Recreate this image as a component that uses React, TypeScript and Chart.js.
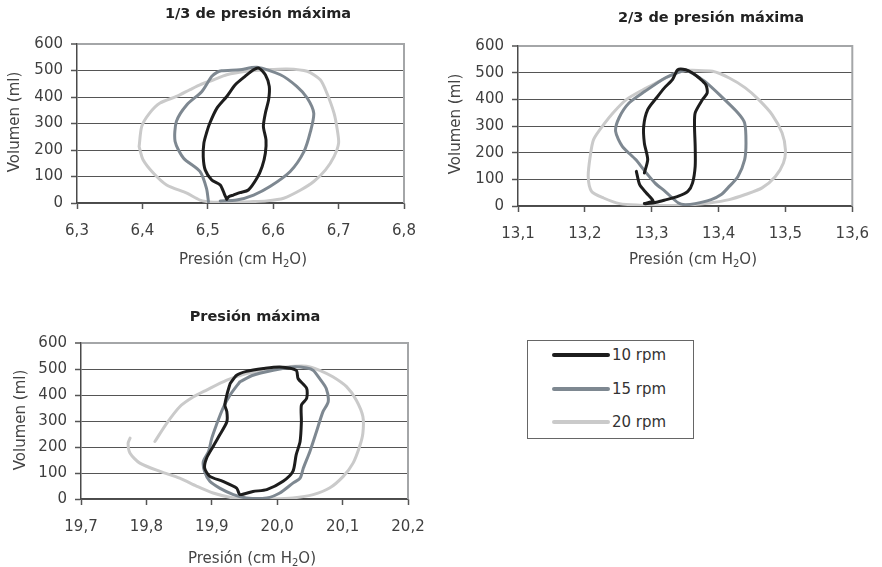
import React, { useEffect, useRef } from "react";
import { Chart, registerables } from "chart.js";

Chart.register(...registerables);

const FONT = "'DejaVu Sans', 'Liberation Sans', sans-serif";

// ---------- Panel 1: 1/3 de presión máxima ----------
const p1Rpm10X = [6.529, 6.526, 6.519, 6.506, 6.496, 6.493, 6.494, 6.498, 6.503, 6.514, 6.529, 6.542, 6.557, 6.57, 6.578, 6.588, 6.594, 6.593, 6.588, 6.585, 6.589, 6.588, 6.583, 6.575, 6.562, 6.549, 6.539, 6.532, 6.529];
const p1Rpm10Y = [14, 30, 68, 87, 125, 175, 226, 264, 301, 358, 402, 446, 478, 503, 509, 484, 440, 390, 339, 289, 238, 188, 137, 93, 49, 39, 30, 24, 14];
const p1Rpm15X = [6.501, 6.498, 6.488, 6.463, 6.45, 6.452, 6.468, 6.491, 6.506, 6.514, 6.521, 6.549, 6.575, 6.611, 6.636, 6.652, 6.662, 6.657, 6.647, 6.626, 6.595, 6.57, 6.544, 6.519];
const p1Rpm15Y = [5, 55, 119, 169, 232, 308, 371, 421, 478, 493, 499, 503, 512, 484, 440, 396, 339, 270, 194, 119, 62, 30, 11, 8];
const p1Rpm20X = [6.395, 6.399, 6.411, 6.427, 6.452, 6.473, 6.488, 6.509, 6.529, 6.56, 6.59, 6.621, 6.652, 6.672, 6.682, 6.693, 6.698, 6.7, 6.693, 6.68, 6.662, 6.642, 6.616, 6.59, 6.565, 6.539, 6.509, 6.488, 6.468, 6.437, 6.417, 6.401, 6.395];
const p1Rpm20Y = [213, 289, 339, 377, 402, 428, 446, 465, 484, 497, 503, 506, 497, 465, 415, 339, 276, 226, 175, 125, 81, 49, 18, 8, 5, 3, 3, 11, 37, 68, 112, 163, 213];

// ---------- Panel 2: 2/3 de presión máxima ----------
const p2Rpm10X = [13.277, 13.282, 13.292, 13.299, 13.302, 13.289, 13.307, 13.322, 13.339, 13.354, 13.361, 13.365, 13.365, 13.364, 13.365, 13.376, 13.383, 13.381, 13.371, 13.361, 13.351, 13.339, 13.331, 13.319, 13.307, 13.294, 13.288, 13.289, 13.294, 13.289];
const p2Rpm10Y = [130, 80, 49, 30, 18, 9, 14, 24, 36, 55, 86, 149, 224, 299, 349, 399, 424, 455, 480, 499, 511, 511, 474, 443, 405, 361, 299, 236, 174, 124];
const p2Rpm15X = [13.34, 13.32, 13.29, 13.266, 13.251, 13.246, 13.256, 13.276, 13.29, 13.305, 13.32, 13.34, 13.35, 13.365, 13.389, 13.404, 13.414, 13.429, 13.439, 13.441, 13.439, 13.429, 13.404, 13.379, 13.36, 13.351, 13.34];
const p2Rpm15Y = [501, 480, 430, 386, 330, 280, 224, 174, 130, 86, 55, 11, 5, 9, 24, 43, 68, 111, 174, 236, 311, 349, 411, 468, 499, 509, 501];
const p2Rpm20X = [13.361, 13.391, 13.416, 13.44, 13.46, 13.48, 13.495, 13.5, 13.497, 13.485, 13.465, 13.44, 13.416, 13.386, 13.361, 13.331, 13.302, 13.282, 13.252, 13.228, 13.21, 13.205, 13.208, 13.213, 13.228, 13.242, 13.262, 13.287, 13.312, 13.331, 13.351, 13.361];
const p2Rpm20Y = [509, 505, 480, 443, 399, 343, 274, 211, 161, 111, 68, 43, 24, 11, 5, 2, 2, 3, 9, 30, 55, 111, 186, 249, 305, 349, 399, 436, 468, 493, 509, 509];

// ---------- Panel 3: Presión máxima ----------
const p3Rpm10X = [19.928, 19.938, 19.953, 19.979, 20.004, 20.029, 20.032, 20.045, 20.045, 20.037, 20.037, 20.035, 20.029, 20.024, 20.009, 19.984, 19.963, 19.943, 19.938, 19.917, 19.897, 19.889, 19.892, 19.902, 19.912, 19.923, 19.923, 19.92, 19.923, 19.928];
const p3Rpm10Y = [444, 476, 491, 502, 508, 495, 463, 426, 387, 361, 297, 221, 170, 106, 68, 36, 29, 17, 42, 68, 87, 119, 157, 202, 246, 297, 336, 361, 400, 444];
const p3Rpm15X = [19.943, 19.928, 19.917, 19.907, 19.9, 19.895, 19.887, 19.889, 19.897, 19.912, 19.933, 19.953, 19.984, 20.004, 20.024, 20.035, 20.04, 20.05, 20.06, 20.07, 20.078, 20.075, 20.065, 20.055, 20.045, 20.024, 19.994, 19.963, 19.943];
const p3Rpm15Y = [451, 400, 349, 285, 234, 183, 144, 106, 68, 42, 17, 4, 4, 23, 61, 80, 119, 183, 259, 336, 374, 425, 463, 495, 504, 508, 495, 476, 451];
const p3Rpm20X = [19.813, 19.831, 19.851, 19.872, 19.892, 19.923, 19.953, 19.984, 20.014, 20.045, 20.065, 20.085, 20.106, 20.121, 20.131, 20.131, 20.126, 20.116, 20.101, 20.08, 20.055, 20.024, 19.994, 19.963, 19.933, 19.902, 19.877, 19.851, 19.821, 19.79, 19.775, 19.772, 19.775];
const p3Rpm20Y = [221, 291, 355, 393, 419, 457, 483, 495, 508, 511, 495, 470, 432, 380, 317, 253, 202, 138, 87, 42, 17, 4, 0, 0, 4, 23, 49, 80, 106, 138, 176, 214, 234];

// ---------- Shared labels ----------
const seriesNames = ["10 rpm", "15 rpm", "20 rpm"];
const seriesColors = ["#1d1d1d", "#7e8891", "#cacaca"];
const panelTitles = ["1/3 de presión máxima", "2/3 de presión máxima", "Presión máxima"];
const yAxisTitle = "Volumen (ml)";
const xTitleParts = ["Presión (cm H", "2", "O)"];
const yMin = 0;
const yMax = 600;
const yStep = 100;
const xRanges = [
  [6.3, 6.8],
  [13.1, 13.6],
  [19.7, 20.2],
];

type Series = { x: number[]; y: number[] };
type PanelCfg = {
  x: number; y: number; w: number; h: number;
  area: { l: number; t: number; r: number; b: number };
  xMin: number; xMax: number;
  title: string;
  titlePos: [number, number];
  xTitlePos: [number, number];
  yTitlePos: [number, number];
  series: Series[];
};

const panels: PanelCfg[] = [
  {
    x: 0, y: 0, w: 441, h: 280,
    area: { l: 77, t: 44, r: 404, b: 203 },
    xMin: xRanges[0][0], xMax: xRanges[0][1],
    title: panelTitles[0],
    titlePos: [258, 14], xTitlePos: [243, 258], yTitlePos: [15, 122],
    series: [
      { x: p1Rpm10X, y: p1Rpm10Y },
      { x: p1Rpm15X, y: p1Rpm15Y },
      { x: p1Rpm20X, y: p1Rpm20Y },
    ],
  },
  {
    x: 441, y: 0, w: 441, h: 280,
    area: { l: 518, t: 46, r: 855, b: 206 },
    xMin: xRanges[1][0], xMax: xRanges[1][1],
    title: panelTitles[1],
    titlePos: [711, 18], xTitlePos: [693, 258], yTitlePos: [456, 124],
    series: [
      { x: p2Rpm10X, y: p2Rpm10Y },
      { x: p2Rpm15X, y: p2Rpm15Y },
      { x: p2Rpm20X, y: p2Rpm20Y },
    ],
  },
  {
    x: 0, y: 290, w: 441, h: 277,
    area: { l: 81, t: 343, r: 408, b: 499 },
    xMin: xRanges[2][0], xMax: xRanges[2][1],
    title: panelTitles[2],
    titlePos: [255, 317], xTitlePos: [252, 557], yTitlePos: [21, 420],
    series: [
      { x: p3Rpm10X, y: p3Rpm10Y },
      { x: p3Rpm15X, y: p3Rpm15Y },
      { x: p3Rpm20X, y: p3Rpm20Y },
    ],
  },
];

function decoPlugin(p: PanelCfg) {
  return {
    id: "deco",
    beforeDatasetsDraw(chart: any) {
      const { ctx, chartArea: a } = chart;
      ctx.save();
      ctx.strokeStyle = "#a4a6a8";
      ctx.lineWidth = 2;
      ctx.beginPath();
      ctx.moveTo(a.right, a.top - 1);
      ctx.lineTo(a.right, a.bottom);
      ctx.stroke();
      ctx.restore();
    },
    afterDraw(chart: any) {
      const ctx: CanvasRenderingContext2D = chart.ctx;
      ctx.save();
      // main title
      ctx.font = `bold 14.5px ${FONT}`;
      ctx.fillStyle = "#222";
      ctx.textAlign = "center";
      ctx.textBaseline = "middle";
      ctx.fillText(p.title, p.titlePos[0] - p.x, p.titlePos[1] - p.y);
      // y title
      ctx.font = `15px ${FONT}`;
      ctx.fillStyle = "#444";
      ctx.save();
      ctx.translate(p.yTitlePos[0] - p.x, p.yTitlePos[1] - p.y);
      ctx.rotate(-Math.PI / 2);
      ctx.fillText(yAxisTitle, 0, 0);
      ctx.restore();
      // x title with subscript
      ctx.textAlign = "left";
      ctx.textBaseline = "alphabetic";
      ctx.font = `15px ${FONT}`;
      const w1 = ctx.measureText(xTitleParts[0]).width;
      const w3 = ctx.measureText(xTitleParts[2]).width;
      ctx.font = `10px ${FONT}`;
      const w2 = ctx.measureText(xTitleParts[1]).width;
      const total = w1 + w2 + w3;
      const sx = p.xTitlePos[0] - p.x - total / 2;
      const base = p.xTitlePos[1] - p.y + 5.5;
      ctx.font = `15px ${FONT}`;
      ctx.fillText(xTitleParts[0], sx, base);
      ctx.font = `10px ${FONT}`;
      ctx.fillText(xTitleParts[1], sx + w1, base + 3.5);
      ctx.font = `15px ${FONT}`;
      ctx.fillText(xTitleParts[2], sx + w1 + w2, base);
      ctx.restore();
    },
  };
}

function Panel({ p }: { p: PanelCfg }) {
  const ref = useRef<HTMLCanvasElement>(null);
  useEffect(() => {
    const canvas = ref.current;
    if (!canvas) return;
    const chart = new Chart(canvas, {
      type: "scatter",
      data: {
        datasets: p.series.map((s, i) => ({
          label: seriesNames[i],
          data: s.x.map((xv, k) => ({ x: xv, y: s.y[k] })),
          showLine: true,
          borderColor: seriesColors[i],
          backgroundColor: seriesColors[i],
          borderWidth: 3,
          pointRadius: 0,
          tension: 0.25,
          borderJoinStyle: "round",
          borderCapStyle: "round",
        })),
      },
      options: {
        animation: false,
        responsive: false,
        devicePixelRatio: 1,
        layout: {
          padding: {
            left: 0,
            top: p.area.t - p.y,
            right: p.x + p.w - p.area.r,
            bottom: 0,
          },
        },
        plugins: {
          legend: { display: false },
          tooltip: { enabled: false },
          title: { display: false },
        },
        scales: {
          x: {
            type: "linear",
            min: p.xMin,
            max: p.xMax,
            afterFit: (s: any) => {
              s.height = p.y + p.h - p.area.b;
            },
            ticks: {
              stepSize: 0.1,
              autoSkip: false,
              maxRotation: 0,
              padding: 13,
              color: "#3f3f3f",
              font: { family: FONT, size: 15 },
              callback: (v: any) => Number(v).toFixed(1).replace(".", ","),
            },
            grid: {
              drawOnChartArea: false,
              drawTicks: true,
              tickLength: 6,
              tickColor: "#555",
              tickWidth: 1.5,
            },
            border: { color: "#4a4a4a", width: 1.5 },
          },
          y: {
            type: "linear",
            min: yMin,
            max: yMax,
            afterFit: (s: any) => {
              s.width = p.area.l - p.x;
            },
            ticks: {
              stepSize: yStep,
              padding: 8,
              color: "#3f3f3f",
              font: { family: FONT, size: 15 },
            },
            grid: {
              drawTicks: true,
              tickLength: 6,
              tickColor: "#555",
              tickWidth: 1.5,
              color: (c: any) => (c.tick && c.tick.value === yMax ? "#a4a6a8" : "#555"),
              lineWidth: (c: any) => (c.tick && c.tick.value === yMax ? 2 : 1),
            },
            border: { color: "#4a4a4a", width: 1.5 },
          },
        },
      },
      plugins: [decoPlugin(p)],
    } as any);
    return () => chart.destroy();
  }, [p]);
  return (
    <canvas
      ref={ref}
      width={p.w}
      height={p.h}
      style={{ position: "absolute", left: p.x, top: p.y, width: p.w, height: p.h }}
    />
  );
}

function LegendBox() {
  const rows = [355, 389, 422];
  return (
    <div
      style={{
        position: "absolute",
        left: 527,
        top: 340,
        width: 167,
        height: 99,
        boxSizing: "border-box",
        border: "1px solid #666",
        background: "#fff",
      }}
    >
      {seriesNames.map((name, i) => (
        <React.Fragment key={name}>
          <div
            style={{
              position: "absolute",
              left: 552 - 528,
              top: rows[i] - 341 - 2,
              width: 58,
              height: 4,
              background: seriesColors[i],
              borderRadius: 2,
            }}
          />
          <div
            style={{
              position: "absolute",
              left: 612 - 528,
              top: rows[i] - 341 - 10,
              height: 20,
              lineHeight: "20px",
              fontFamily: FONT,
              fontSize: 15,
              color: "#333",
              whiteSpace: "nowrap",
            }}
          >
            {name}
          </div>
        </React.Fragment>
      ))}
    </div>
  );
}

export default function App() {
  return (
    <div style={{ position: "absolute", left: 0, top: 0, width: 882, height: 567, background: "#fff" }}>
      {panels.map((p, i) => (
        <Panel key={i} p={p} />
      ))}
      <LegendBox />
    </div>
  );
}
